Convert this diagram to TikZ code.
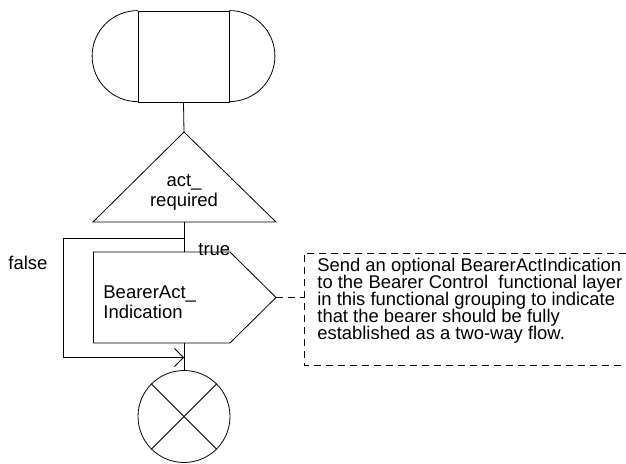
\documentclass[tikz,border=0pt]{standalone}
\usepackage{fontspec}
\setmainfont{Liberation Sans}
\usetikzlibrary{arrows.meta}
\newcommand\mynotesize{\fontsize{18.4}{16.9}\selectfont\setlength{\lineskiplimit}{-30pt}}
\begin{document}
\begin{tikzpicture}[x=1pt,y=1pt, line width=0.8pt,
  lbl/.style={inner sep=0pt, font=\fontsize{18.5}{20}\selectfont},
  notefont/.style={inner sep=0pt, font=\mynotesize},
  dashedline/.style={dash pattern=on 7pt off 5pt},
  openarrow/.style={-{Straight Barb[length=9pt,width=18pt]}}]
\useasboundingbox (0,0) rectangle (626,463);
% start terminal
\node[draw, minimum width=91pt, minimum height=91pt, inner sep=0pt] (start) at (183.5,406.5) {};
\draw (start.north west) arc[start angle=90,end angle=270,radius=45.5];
\draw (start.north east) arc[start angle=90,end angle=-90,radius=45.5];
% decision
\coordinate (tapex) at (184,331);
\coordinate (tbase) at (184,241);
\coordinate (tleft) at (93,241);
\coordinate (tright) at (276,241);
\draw (tapex) -- (tright) -- (tleft) -- cycle;
\node[lbl, align=center] (dec) at (184,271) {act\_\\required};
\draw (start.south) -- (tapex);
% output signal
\coordinate (btl) at (93.5,211);
\coordinate (btr) at (230,211);
\coordinate (bpoint) at (276,165.5);
\coordinate (bbr) at (230,120);
\coordinate (bbl) at (93.5,120);
\coordinate (btop) at (184,211);
\coordinate (bbot) at (184,120);
\draw (btl) -- (btr) -- (bpoint) -- (bbr) -- (bbl) -- cycle;
\node[lbl, align=left, anchor=west] (sig) at (103,161) {BearerAct\_\\Indication};
% stop
\node[draw, circle, minimum size=92pt, inner sep=0pt] (stop) at (184,46.5) {};
\draw (stop.north west) -- (stop.south east);
\draw (stop.north east) -- (stop.south west);
% flow
\draw (tbase) -- (btop);
\draw (bbot) -- (stop.north);
\coordinate (lsplit) at (184,224.5);
\coordinate (lcorner1) at (63,224.5);
\coordinate (lcorner2) at (63,105.5);
\coordinate (ljoin) at (184,105.5);
\draw[openarrow] (lsplit) -- (lcorner1) -- (lcorner2) -- (ljoin);
\node[lbl, anchor=base west] (t) at (198,207.5) {true};
\node[lbl, anchor=base west] (f) at (8,193) {false};
% comment
\coordinate (ctop) at (304,210);
\coordinate (cbot) at (304,98);
\coordinate (ctopend) at (626,210);
\coordinate (cbotend) at (626,98);
\draw[dashedline] (ctopend) -- (ctop) -- (cbot) -- (cbotend);
\draw[dashedline] (bpoint) -- (bpoint -| ctop);
\node[notefont, align=left, anchor=west] (note) at (317,162) {Send an optional BearerActIndication\\to the Bearer Control~ functional layer\\in this functional grouping to indicate\\that the bearer should be fully\\established as a two-way flow.};
\end{tikzpicture}
\end{document}
